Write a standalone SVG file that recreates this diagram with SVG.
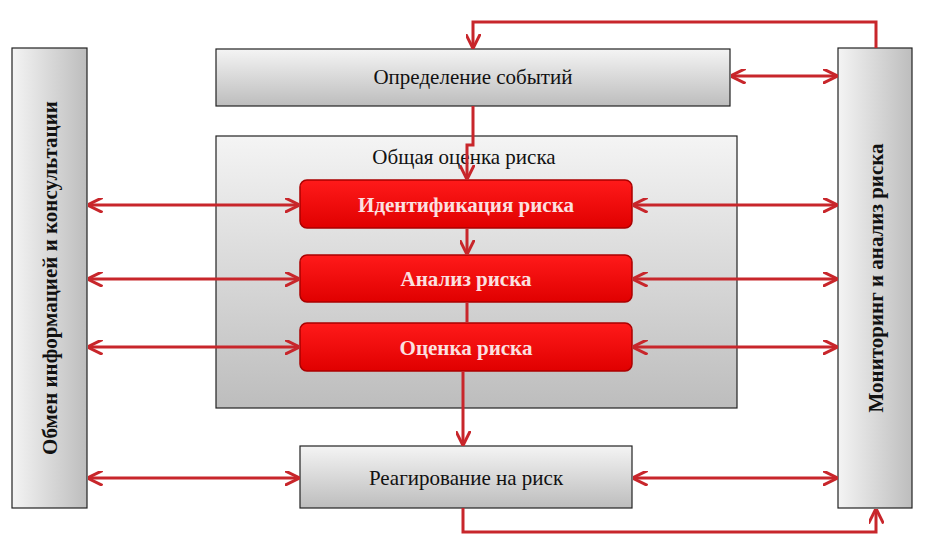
<svg xmlns="http://www.w3.org/2000/svg" width="926" height="558" viewBox="0 0 926 558">
<defs>
<linearGradient id="g" x1="0" y1="0" x2="0" y2="1"><stop offset="0" stop-color="#f4f4f4"/><stop offset="1" stop-color="#bdbdbd"/></linearGradient>
<linearGradient id="gh" x1="0" y1="0" x2="1" y2="0"><stop offset="0" stop-color="#f4f4f4"/><stop offset="1" stop-color="#bdbdbd"/></linearGradient>
<linearGradient id="r" x1="0" y1="0" x2="0" y2="1"><stop offset="0" stop-color="#ff1a1a"/><stop offset="1" stop-color="#e00000"/></linearGradient>
<marker id="a" viewBox="0 0 10 10" refX="9" refY="5" markerWidth="5" markerHeight="5" orient="auto-start-reverse"><path d="M0,0 L10,5 L0,10" fill="none" stroke="#c8262b" stroke-width="2"/></marker>
</defs>
<style>
.box{stroke:#222;stroke-width:1.2}
.red{fill:url(#r);stroke:#a00;stroke-width:1.5}
.t{font-family:"Liberation Serif",serif;font-size:21px;fill:#111;text-anchor:middle}
.w{font-family:"Liberation Serif",serif;font-size:21px;font-weight:bold;fill:#fbe0e0;text-anchor:middle}
.b{font-family:"Liberation Serif",serif;font-size:21px;font-weight:bold;fill:#111;text-anchor:middle}
.c{fill:none;stroke:#c8262b;stroke-width:3}
</style>
<rect width="926" height="558" fill="#fff"/>
<g id="left"><rect class="box" x="12" y="48" width="75" height="460" fill="url(#gh)"/><text class="b" transform="translate(57,278) rotate(-90)">Обмен информацией и консультации</text></g>
<g id="right"><rect class="box" x="838" y="48" width="74" height="460" fill="url(#gh)"/><text class="b" transform="translate(883,278) rotate(-90)">Мониторинг и анализ риска</text></g>
<g id="def"><rect class="box" x="216" y="49" width="514" height="57" fill="url(#g)"/><text class="t" x="473" y="84">Определение событий</text></g>
<g id="overall"><rect class="box" x="216" y="136" width="521" height="272" fill="url(#g)"/><text class="t" x="464" y="164">Общая  оценка риска</text></g>
<g id="ident"><rect class="red" x="300" y="180" width="332" height="48" rx="7"/><text class="w" x="466" y="212">Идентификация риска</text></g>
<g id="anal"><rect class="red" x="300" y="255" width="332" height="47" rx="7"/><text class="w" x="466" y="286">Анализ риска</text></g>
<g id="ocen"><rect class="red" x="300" y="323" width="332" height="48" rx="7"/><text class="w" x="466" y="355">Оценка риска</text></g>
<g id="reag"><rect class="box" x="300" y="446" width="332" height="62" fill="url(#g)"/><text class="t" x="466" y="485">Реагирование на риск</text></g>
<g id="connectors">
<path class="c" d="M876,48 V22 H473 V47" marker-end="url(#a)"/>
<path class="c" d="M473,106 V145 H467 V178" marker-end="url(#a)"/>
<path class="c" d="M467,228 V253" marker-end="url(#a)"/>
<path class="c" d="M467,302 V323"/>
<path class="c" d="M463,371 V444" marker-end="url(#a)"/>
<path class="c" d="M463,508 V532 H876 V510" marker-end="url(#a)"/>
<path class="c" d="M732,76 H836" marker-start="url(#a)" marker-end="url(#a)"/>
<path class="c" d="M89,205 H298" marker-start="url(#a)" marker-end="url(#a)"/>
<path class="c" d="M89,279 H298" marker-start="url(#a)" marker-end="url(#a)"/>
<path class="c" d="M89,347 H298" marker-start="url(#a)" marker-end="url(#a)"/>
<path class="c" d="M89,478 H298" marker-start="url(#a)" marker-end="url(#a)"/>
<path class="c" d="M634,205 H836" marker-start="url(#a)" marker-end="url(#a)"/>
<path class="c" d="M634,279 H836" marker-start="url(#a)" marker-end="url(#a)"/>
<path class="c" d="M634,347 H836" marker-start="url(#a)" marker-end="url(#a)"/>
<path class="c" d="M634,478 H836" marker-start="url(#a)" marker-end="url(#a)"/>
</g>
</svg>
